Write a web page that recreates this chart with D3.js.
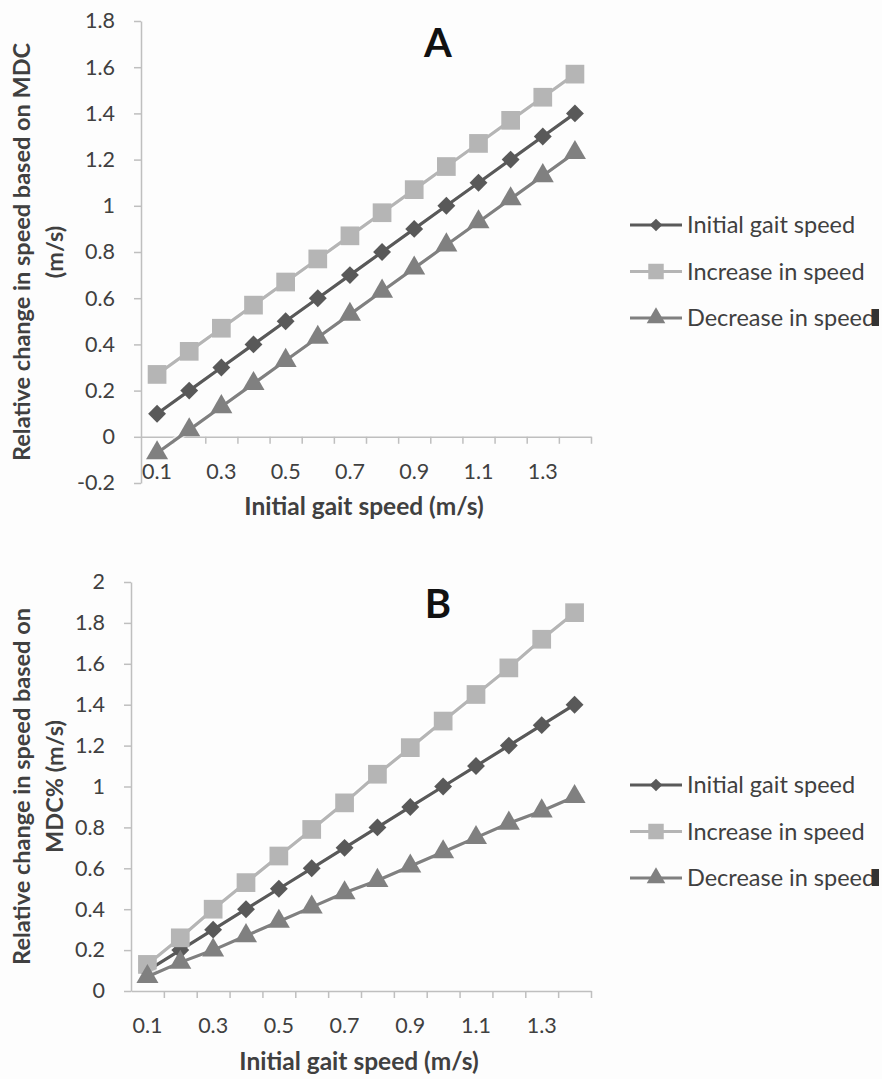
<!DOCTYPE html>
<html>
<head>
<meta charset="utf-8">
<script src="https://cdn.jsdelivr.net/npm/d3@7"></script>
<style>
  body { margin: 0; background: #fdfdfd; }
  svg text { font-family: Lato, "Open Sans", sans-serif; }
</style>
</head>
<body>
<script>
// Two Excel-style line charts (A and B) stacked on one page
// data, one small array per thing

let speeds = ["0.1", "0.2", "0.3", "0.4", "0.5", "0.6", "0.7",
              "0.8", "0.9", "1", "1.1", "1.2", "1.3", "1.4"];
let xTickLabels = ["0.1", "0.3", "0.5", "0.7", "0.9", "1.1", "1.3"];

let initialSpeed = [0.1, 0.2, 0.3, 0.4, 0.5, 0.6, 0.7, 0.8, 0.9, 1.0, 1.1, 1.2, 1.3, 1.4];

// chart A: based on MDC
let increaseMDC = [0.27, 0.37, 0.47, 0.57, 0.67, 0.77, 0.87, 0.97, 1.07, 1.17, 1.27, 1.37, 1.47, 1.57];
let decreaseMDC = [-0.07, 0.03, 0.13, 0.23, 0.33, 0.43, 0.53, 0.63, 0.73, 0.83, 0.93, 1.03, 1.13, 1.23];

// chart B: based on MDC%
let increaseMDCpct = [0.13, 0.26, 0.40, 0.53, 0.66, 0.79, 0.92, 1.06, 1.19, 1.32, 1.45, 1.58, 1.72, 1.85];
let decreaseMDCpct = [0.07, 0.14, 0.20, 0.27, 0.34, 0.41, 0.48, 0.54, 0.61, 0.68, 0.75, 0.82, 0.88, 0.95];

let yTicksA = [-0.2, 0, 0.2, 0.4, 0.6, 0.8, 1, 1.2, 1.4, 1.6, 1.8];
let yTicksB = [0, 0.2, 0.4, 0.6, 0.8, 1, 1.2, 1.4, 1.6, 1.8, 2];

let seriesNames = ["Initial gait speed", "Increase in speed", "Decrease in speed"];
let seriesColors = ["#595959", "#b5b5b5", "#808080"];
let seriesMarkers = ["diamond", "square", "triangle"];

let svg = null;

appendSvg("body");

drawChart({
  letter: "A", letterY: 57,
  left: 141, right: 591, top: 21, bottom: 483,
  yDomain: [-0.2, 1.8], yTicks: yTicksA,
  values: [initialSpeed, increaseMDC, decreaseMDC],
  yTitle: ["Relative change in speed based on MDC", "(m/s)"],
  xTitleY: 515, legendY: 225
});

drawChart({
  letter: "B", letterY: 618,
  left: 131, right: 591, top: 582, bottom: 991,
  yDomain: [0, 2], yTicks: yTicksB,
  values: [initialSpeed, increaseMDCpct, decreaseMDCpct],
  yTitle: ["Relative change in speed based on", "MDC% (m/s)"],
  xTitleY: 1070, legendY: 785
});

function appendSvg(domElement) {
  svg = d3.select(domElement).append("svg")
    .attr("width", 882)
    .attr("height", 1079);

  svg.append("rect")
    .attr("width", 882)
    .attr("height", 1079)
    .attr("fill", "#fdfdfd");
}

function markerPath(type, big) {
  if (type === "square") return d3.symbol(d3.symbolSquare, big ? 350 : 240)();
  if (type === "triangle") return d3.symbol(d3.symbolTriangle, big ? 210 : 150)();
  // diamond = square turned 45 degrees
  return d3.symbol(d3.symbolSquare, big ? 160 : 80)();
}

function drawChart(c) {
  let g = svg.append("g");

  let x = d3.scaleBand()
    .domain(speeds)
    .range([c.left, c.right]);

  let y = d3.scaleLinear()
    .domain(c.yDomain)
    .range([c.bottom, c.top]);

  let y0 = y(Math.max(0, c.yDomain[0]));

  // y axis
  let yAxis = g.append("g")
    .attr("transform", `translate(${c.left},0)`)
    .call(d3.axisLeft(y)
      .tickValues(c.yTicks)
      .tickSize(7)
      .tickSizeOuter(0)
      .tickPadding(19)
      .tickFormat(d => String(+d.toFixed(1))));
  styleAxis(yAxis);

  // x axis line at zero, with ticks between categories
  let idx = d3.scaleLinear().domain([0, speeds.length]).range([c.left, c.right]);
  let xAxis = g.append("g")
    .attr("transform", `translate(0,${y0})`)
    .call(d3.axisBottom(idx)
      .tickValues(d3.range(1, speeds.length + 1))
      .tickSize(7)
      .tickSizeOuter(0)
      .tickFormat(""));
  styleAxis(xAxis);

  // category labels, every other one
  let xLabels = g.append("g")
    .attr("transform", `translate(0,${y0})`)
    .call(d3.axisBottom(x)
      .tickValues(xTickLabels)
      .tickSize(0)
      .tickPadding(27));
  xLabels.select(".domain").remove();
  styleAxis(xLabels);

  // the series, drawn in Excel order
  let line = d3.line()
    .x((d, i) => x(speeds[i]) + x.bandwidth() / 2)
    .y(d => y(d));

  c.values.forEach(function(vals, s) {
    g.append("path")
      .attr("d", line(vals))
      .attr("fill", "none")
      .attr("stroke", "#ffffff")
      .attr("stroke-opacity", 0.7)
      .attr("stroke-width", 6.5);

    g.append("path")
      .attr("d", line(vals))
      .attr("fill", "none")
      .attr("stroke", seriesColors[s])
      .attr("stroke-width", 3.2);

    g.selectAll(null)
      .data(vals)
      .enter()
      .append("path")
      .attr("d", markerPath(seriesMarkers[s], true))
      .attr("transform", (d, i) => `translate(${x(speeds[i]) + x.bandwidth() / 2},${y(d)})` +
        (seriesMarkers[s] === "diamond" ? " rotate(45)" : ""))
      .attr("fill", seriesColors[s]);
  });

  // panel letter
  g.append("text")
    .attr("x", 438)
    .attr("y", c.letterY)
    .attr("text-anchor", "middle")
    .style("font-size", "40px")
    .style("font-weight", "bold")
    .attr("fill", "#111")
    .text(c.letter);

  // axis titles
  g.append("text")
    .attr("x", (c.left + c.right) / 2 - 2)
    .attr("y", c.xTitleY)
    .attr("text-anchor", "middle")
    .style("font-size", "24.5px")
    .style("font-weight", "bold")
    .attr("fill", "#404040")
    .text("Initial gait speed (m/s)");

  let midY = (c.top + c.bottom) / 2;
  c.yTitle.forEach(function(t, i) {
    g.append("text")
      .attr("transform", `translate(${22 + i * 33},${midY}) rotate(-90)`)
      .attr("dy", "0.35em")
      .attr("text-anchor", "middle")
      .style("font-size", "23.5px")
      .style("font-weight", "bold")
      .attr("fill", "#404040")
      .text(t);
  });

  appendLegend(c.legendY);
}

function styleAxis(axis) {
  axis.select(".domain").attr("stroke", "#bfbfbf").attr("stroke-width", 1.5);
  axis.selectAll(".tick line").attr("stroke", "#bfbfbf").attr("stroke-width", 1.5);
  axis.selectAll(".tick text")
    .attr("fill", "#404040")
    .style("font-size", "21.5px")
    .style("font-family", "Lato, sans-serif");
}

function appendLegend(top) {
  let rows = svg.append("g")
    .attr("transform", `translate(630,${top})`)
    .selectAll("g")
    .data(seriesNames)
    .enter()
    .append("g")
    .attr("transform", (d, i) => `translate(0,${i * 46.5})`);

  rows.append("line")
    .attr("x1", 0).attr("x2", 52)
    .attr("stroke", (d, i) => seriesColors[i])
    .attr("stroke-width", 3);

  rows.append("path")
    .attr("d", (d, i) => markerPath(seriesMarkers[i], false))
    .attr("transform", (d, i) => "translate(26,0)" + (seriesMarkers[i] === "diamond" ? " rotate(45)" : ""))
    .attr("fill", (d, i) => seriesColors[i]);

  rows.append("text")
    .attr("x", 57)
    .attr("dy", "0.35em")
    .style("font-size", "23.5px")
    .attr("fill", "#404040")
    .text(d => d);

  // the dark block clipping the last legend entry in the original
  svg.append("rect")
    .attr("x", 872).attr("y", top + 2 * 46.5 - 9)
    .attr("width", 7).attr("height", 17)
    .attr("fill", "#333");
}
</script>
</body>
</html>
